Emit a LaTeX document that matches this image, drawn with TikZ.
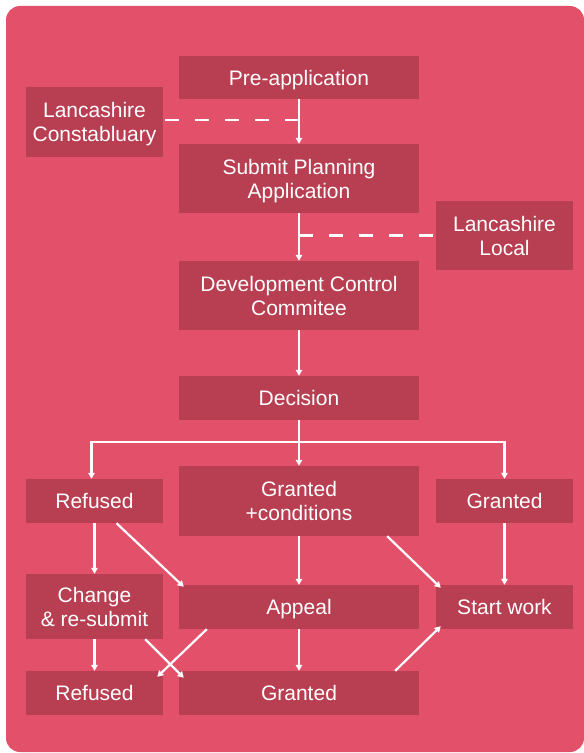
\documentclass[tikz,border=0pt]{standalone}
\usepackage{fontspec}
\setmainfont{Liberation Sans}
\usetikzlibrary{arrows.meta,calc}
\definecolor{bgred}{HTML}{E35069}
\definecolor{boxred}{HTML}{B83E52}
\begin{document}
\begin{tikzpicture}[x=1bp,y=-1bp,
  box/.style={fill=boxred,text=white,inner sep=0pt,align=center,
    font=\fontsize{21bp}{24bp}\selectfont},
  one/.style={text height=15bp,text depth=0bp},
  two/.style={text height=39bp,text depth=0bp},
  wide/.style={box,minimum width=240bp},
  narrow/.style={box,minimum width=137bp},
  conn/.style={draw=white,line width=2.2bp},
  arr/.style={conn,-{Triangle[width=6.5bp,length=6bp]}},
  dashline/.style={conn,dash pattern=on 14bp off 16bp}]
\useasboundingbox (0,0) rectangle (584,753);
\fill[bgred,rounded corners=14bp] (6,6) rectangle (584,752);
% nodes
\node[wide,one,minimum height=43bp] (pre) at (299,77.5) {Pre-application};
\node[narrow,two,minimum height=70bp] (cons) at (94.5,122) {Lancashire\\Constabluary};
\node[wide,two,minimum height=69bp] (submit) at (299,178.5) {Submit Planning\\Application};
\node[narrow,two,minimum height=69bp] (local) at (504.5,235.5) {Lancashire\\Local};
\node[wide,two,minimum height=69bp] (dcc) at (299,295.5) {Development Control\\Commitee};
\node[wide,one,minimum height=44bp] (dec) at (299,398) {Decision};
\node[narrow,one,minimum height=44bp] (ref1) at (94.5,501) {Refused};
\node[wide,two,minimum height=70bp] (gcond) at (299,501) {Granted\\+conditions};
\node[narrow,one,minimum height=44bp] (gr1) at (504.5,501) {Granted};
\node[narrow,two,minimum height=65bp] (change) at (94.5,606.5) {Change\\\& re-submit};
\node[wide,one,minimum height=44bp] (appeal) at (299,607) {Appeal};
\node[narrow,one,minimum height=44bp] (start) at (504.5,607) {Start work};
\node[narrow,one,minimum height=44bp] (ref2) at (94.5,693) {Refused};
\node[wide,one,minimum height=44bp] (gr2) at (299,693) {Granted};
% connectors
\draw[arr] (pre) -- (submit);
\draw[arr] (submit) -- (dcc);
\draw[arr] (dcc) -- (dec);
\coordinate (j1) at ($(pre.south)!0.5!(submit.north)$);
\coordinate (j2) at ($(submit.south)!0.5!(dcc.north)$);
\coordinate (c1) at ($(cons.east)+(0,-2)$);
\draw[dashline] (j1 |- c1) -- (c1);
\draw[dashline] (j2 |- local.west) -- (local.west);
\coordinate (split) at ($(dec.south)+(0,22)$);
\draw[conn] (dec.south) -- (split);
\draw[arr] (split) -| ($(ref1.north)+(-3,0)$);
\draw[arr] (split) -| (gr1.north);
\draw[arr] (split) -- (gcond.north);
\draw[arr] (ref1) -- (change);
\draw[arr] ($(ref1.south)+(22,0)$) -- ($(appeal.north west)+(5,2)$);
\draw[arr] (gcond) -- (appeal);
\draw[arr] ($(gcond.south east)+(-32,0)$) -- ($(start.north west)+(5,3)$);
\draw[arr] (gr1) -- (start);
\draw[arr] (change) -- (ref2);
\draw[arr] ($(change.south east)+(-18,0)$) -- ($(gr2.north west)+(5,7)$);
\draw[arr] ($(appeal.south west)+(28,0)$) -- ($(ref2.north east)+(-6,6)$);
\draw[arr] (appeal) -- (gr2);
\draw[arr] ($(gr2.north east)+(-24,0)$) -- ($(start.south west)+(5,-3)$);
\end{tikzpicture}
\end{document}
